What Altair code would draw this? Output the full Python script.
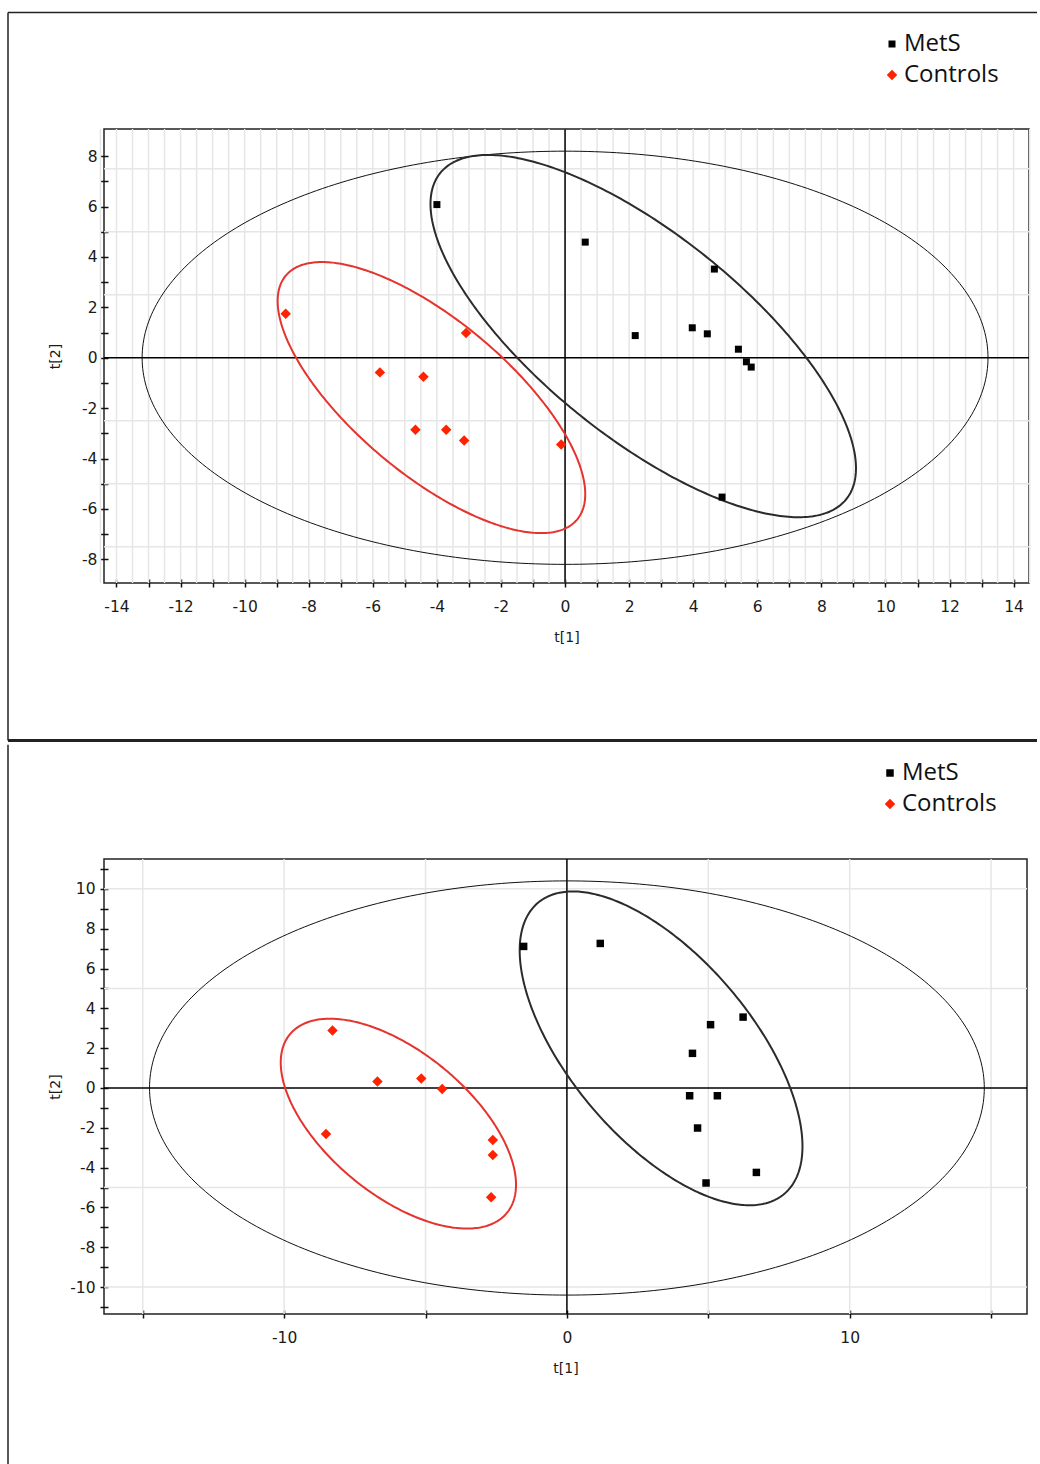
import numpy as np
import pandas as pd
import altair as alt

GROUPS = ["MetS", "Controls"]
POINT_COLORS = ["#000000", "#ff2200"]
POINT_SHAPES = ["square", "diamond"]

# ---------------- top panel (scores) ----------------
TOP_METS_X = [-4.00, 0.63, 4.66, 2.19, 3.97, 4.44, 5.41, 5.66, 5.81, 4.90]
TOP_METS_Y = [6.08, 4.59, 3.52, 0.88, 1.19, 0.95, 0.34, -0.16, -0.37, -5.53]
TOP_CTRL_X = [-8.72, -3.09, -5.78, -4.42, -4.67, -3.71, -3.15, -0.12]
TOP_CTRL_Y = [1.75, 0.98, -0.58, -0.75, -2.86, -2.86, -3.28, -3.44]

# ellipse: centre x, centre y, half-width in x, half-height in y, correlation
TOP_ELL_OUTER = [0.0, 0.0, 13.2, 8.2, 0.0]
TOP_ELL_METS = [2.44, 0.86, 6.64, 7.19, -0.729]
TOP_ELL_CTRL = [-4.17, -1.58, 4.80, 5.38, -0.712]

TOP_X_DOMAIN = [-14.39, 14.48]
TOP_Y_DOMAIN = [-8.94, 9.08]
TOP_X_TICKS = list(range(-14, 15))
TOP_Y_TICKS = list(range(-8, 9))
TOP_GRID_X = [v / 2 for v in range(-29, 30)]
TOP_GRID_Y = [-7.5, -5.0, -2.5, 2.5, 5.0, 7.5]

# ---------------- bottom panel (scores) ----------------
BOT_METS_X = [1.18, 6.23, 5.08, 4.44, 4.34, 5.32, 4.62, 6.70, 4.92, -1.53]
BOT_METS_Y = [7.26, 3.56, 3.18, 1.74, -0.39, -0.39, -2.01, -4.24, -4.77, 7.11]
BOT_CTRL_X = [-8.29, -6.70, -5.15, -4.41, -8.52, -2.62, -2.62, -2.68]
BOT_CTRL_Y = [2.89, 0.33, 0.48, -0.05, -2.31, -2.61, -3.36, -5.49]

BOT_ELL_OUTER = [0.0, 0.0, 14.76, 10.4, 0.0]
BOT_ELL_METS = [3.33, 1.99, 5.00, 7.88, -0.624]
BOT_ELL_CTRL = [-5.96, -1.79, 4.16, 5.27, -0.582]

BOT_X_DOMAIN = [-16.37, 16.27]
BOT_Y_DOMAIN = [-11.35, 11.5]
BOT_X_TICKS = [-15, -10, -5, 0, 5, 10, 15]
BOT_Y_TICKS = list(range(-11, 12))
BOT_GRID_X = [-15, -10, -5, 5, 10, 15]
BOT_GRID_Y = [-10, -5, 5, 10]

AXIS_FONT = "DejaVu Sans"
TEXT_COLOR = "#1a1a1a"


def ellipse_df(params, n=361):
    cx, cy, hx, hy, r = params
    t = np.linspace(0, 2 * np.pi, n)
    return pd.DataFrame({
        "i": np.arange(n),
        "x": cx + hx * np.cos(t),
        "y": cy + hy * (r * np.cos(t) + np.sqrt(1 - r * r) * np.sin(t)),
    })


def points_df(mx, my, cx, cy):
    return pd.DataFrame({
        "x": list(mx) + list(cx),
        "y": list(my) + list(cy),
        "group": [GROUPS[0]] * len(mx) + [GROUPS[1]] * len(cx),
    })


def panel(pts, ells, xdom, ydom, w, h, xticks, xlabel_expr, yticks, grid_x, grid_y,
          legend_xy, ylabel_pad, sizes, frames):
    xs = alt.Scale(domain=xdom, nice=False, zero=False)
    ys = alt.Scale(domain=ydom, nice=False, zero=False)

    x_axis = alt.Axis(
        values=xticks, tickSize=8, offset=-4, domain=False, grid=False,
        tickColor="#111", tickWidth=1.5, labelExpr=xlabel_expr,
        labelPadding=12, labelFont=AXIS_FONT, labelFontSize=15.5, labelColor=TEXT_COLOR,
        labelOverlap=False, labelFlush=False,
        title="t[1]", titleFont=AXIS_FONT, titleFontSize=14, titleFontWeight="normal",
        titleColor=TEXT_COLOR, titleY=58, titleBaseline="middle",
    )
    y_axis = alt.Axis(
        values=yticks, tickSize=8, offset=-4, domain=False, grid=False,
        tickColor="#111", tickWidth=1.5,
        labelExpr="datum.value % 2 == 0 ? '' + datum.value : ''",
        labelPadding=ylabel_pad, labelFont=AXIS_FONT, labelFontSize=15.5, labelColor=TEXT_COLOR,
        labelOverlap=False, labelFlush=False,
        title="t[2]", titleFont=AXIS_FONT, titleFontSize=14, titleFontWeight="normal",
        titleColor=TEXT_COLOR, titleX=-53, titleAngle=-90, titleBaseline="middle",
    )

    def X(f):
        return alt.X(f, scale=xs, axis=x_axis)

    def Y(f):
        return alt.Y(f, scale=ys, axis=y_axis)

    gx = alt.Chart(pd.DataFrame({"v": grid_x})).mark_rule(
        color="#e6e6e6", strokeWidth=1.5).encode(x=X("v:Q"))
    gy = alt.Chart(pd.DataFrame({"v": grid_y})).mark_rule(
        color="#e6e6e6", strokeWidth=1.5).encode(y=Y("v:Q"))
    ox = alt.Chart(pd.DataFrame({"v": [0]})).mark_rule(
        color="#000", strokeWidth=1.5).encode(x=X("v:Q"))
    oy = alt.Chart(pd.DataFrame({"v": [0]})).mark_rule(
        color="#000", strokeWidth=1.5).encode(y=Y("v:Q"))

    outer, mets, ctrl = ells
    e_outer = alt.Chart(ellipse_df(outer)).mark_line(color="#111", strokeWidth=1).encode(
        x=X("x:Q"), y=Y("y:Q"), order=alt.Order("i:Q"))
    e_mets = alt.Chart(ellipse_df(mets)).mark_line(color="#2b2b2b", strokeWidth=2).encode(
        x=X("x:Q"), y=Y("y:Q"), order=alt.Order("i:Q"))
    e_ctrl = alt.Chart(ellipse_df(ctrl)).mark_line(color="#e5332e", strokeWidth=2).encode(
        x=X("x:Q"), y=Y("y:Q"), order=alt.Order("i:Q"))

    leg = alt.Legend(title=None, orient="none", legendX=legend_xy[0], legendY=legend_xy[1])
    scatter = alt.Chart(pts).mark_point(filled=True, opacity=1).encode(
        x=X("x:Q"), y=Y("y:Q"),
        color=alt.Color("group:N", scale=alt.Scale(domain=GROUPS, range=POINT_COLORS), legend=leg),
        shape=alt.Shape("group:N", scale=alt.Scale(domain=GROUPS, range=POINT_SHAPES), legend=leg),
        size=alt.Size("group:N", scale=alt.Scale(domain=GROUPS, range=sizes), legend=None),
    )

    frame_layers = []
    dummy = pd.DataFrame({"a": [0]})
    for kind, a, b1, b2, sw in frames:
        if kind == "h":
            frame_layers.append(alt.Chart(dummy).mark_rule(color="#222", strokeWidth=sw).encode(
                y=alt.value(a), x=alt.value(b1), x2=alt.value(b2)))
        else:
            frame_layers.append(alt.Chart(dummy).mark_rule(color="#222", strokeWidth=sw).encode(
                x=alt.value(a), y=alt.value(b1), y2=alt.value(b2)))

    return alt.layer(gx, gy, ox, oy, e_outer, e_mets, e_ctrl, scatter, *frame_layers).properties(
        width=w, height=h)


top = panel(
    points_df(TOP_METS_X, TOP_METS_Y, TOP_CTRL_X, TOP_CTRL_Y),
    (TOP_ELL_OUTER, TOP_ELL_METS, TOP_ELL_CTRL),
    TOP_X_DOMAIN, TOP_Y_DOMAIN, 925, 454,
    TOP_X_TICKS, "datum.value % 2 == 0 ? '' + datum.value : ''",
    TOP_Y_TICKS, TOP_GRID_X, TOP_GRID_Y,
    (776, -97), 3, [49, 110],
    [("h", -116.5, -96, 933, 1.5), ("v", -96, -116.5, 611.5, 1.5), ("h", 611.5, -96, 933, 3)],
)

bottom = panel(
    points_df(BOT_METS_X, BOT_METS_Y, BOT_CTRL_X, BOT_CTRL_Y),
    (BOT_ELL_OUTER, BOT_ELL_METS, BOT_ELL_CTRL),
    BOT_X_DOMAIN, BOT_Y_DOMAIN, 923, 455,
    BOT_X_TICKS, "datum.value % 10 == 0 ? '' + datum.value : ''",
    BOT_Y_TICKS, BOT_GRID_X, BOT_GRID_Y,
    (774, -98), 5, [56, 110],
    [("v", -96, -114.3, 605.0, 1.5)],
)

chart = alt.vconcat(top, bottom, spacing=0).resolve_scale(
    color="independent", shape="independent", size="independent"
).resolve_legend(
    color="independent", shape="independent", size="independent"
).properties(
    padding={"left": 5, "top": 11, "right": 0, "bottom": 0},
    background="white",
).configure_view(
    stroke="#222", strokeWidth=1.5
).configure_legend(
    labelFont="Open Sans", labelFontSize=24, labelColor="#111",
    symbolSize=49, symbolStrokeWidth=0, rowPadding=7, labelOffset=0, padding=0,
)

chart.save("out.html", embed_options={"renderer": "svg", "actions": False})
